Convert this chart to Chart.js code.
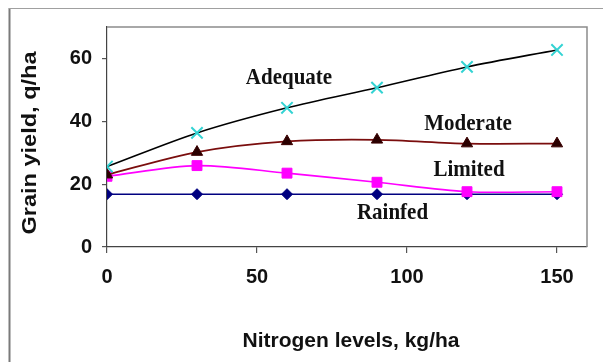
<!DOCTYPE html>
<html>
<head>
<meta charset="utf-8">
<script src="https://cdn.jsdelivr.net/npm/chart.js@4/dist/chart.umd.min.js"></script>
<style>
  html, body { margin: 0; padding: 0; background: #ffffff; }
  #wrap { width: 603px; height: 362px; position: relative; }
</style>
</head>
<body>
<div id="wrap"><canvas id="chart" width="603" height="362"></canvas></div>
<script>
// Grain yield response to nitrogen under four water regimes
const nitrogenLevels = [0, 30, 60, 90, 120, 150];
const seriesNames = ['Adequate', 'Moderate', 'Limited', 'Rainfed'];
const adequateYield = [25.6, 36.3, 44.3, 50.7, 57.3, 62.7];
const moderateYield = [23.0, 30.2, 33.6, 34.1, 32.9, 32.9];
const limitedYield  = [22.5, 25.9, 23.5, 20.6, 17.6, 17.6];
const rainfedYield  = [16.8, 16.8, 16.8, 16.8, 16.8, 16.8];
const xTicks = [0, 50, 100, 150];
const yTicks = [0, 20, 40, 60];
const xTitle = 'Nitrogen levels, kg/ha';
const yTitle = 'Grain yield, q/ha';

const toPoints = vals => nitrogenLevels.map((x, i) => ({ x, y: vals[i] }));

const SANS = "'Liberation Sans', Arial, sans-serif";
const SERIF = "'Liberation Serif', 'Times New Roman', serif";

// Series captions placed beside their curves
const captionPos = {
  Adequate: [289, 84],
  Moderate: [468, 130],
  Limited:  [469, 175.5],
  Rainfed:  [392.5, 219]
};

const decorations = {
  id: 'decorations',
  beforeDraw(chart) {
    const ctx = chart.ctx;
    ctx.save();
    ctx.fillStyle = '#ffffff';
    ctx.fillRect(0, 0, chart.width, chart.height);
    // outer frame (left and top edges)
    ctx.strokeStyle = '#7a7a7a';
    ctx.lineWidth = 2;
    ctx.beginPath();
    ctx.moveTo(9.5, 8);
    ctx.lineTo(9.5, chart.height);
    ctx.stroke();
    ctx.strokeStyle = '#a0a0a0';
    ctx.lineWidth = 1;
    ctx.beginPath();
    ctx.moveTo(9, 8.5);
    ctx.lineTo(chart.width, 8.5);
    ctx.stroke();
    ctx.restore();
  },
  afterDraw(chart) {
    const ctx = chart.ctx;
    const a = chart.chartArea;
    ctx.save();
    // plot area top and right edges
    ctx.strokeStyle = '#8c8c8c';
    ctx.lineWidth = 1.5;
    ctx.beginPath();
    ctx.moveTo(a.left, a.top);
    ctx.lineTo(a.right, a.top);
    ctx.lineTo(a.right, a.bottom);
    ctx.stroke();

    // series captions
    ctx.fillStyle = '#111111';
    ctx.font = 'bold 21px ' + SERIF;
    ctx.textAlign = 'center';
    ctx.textBaseline = 'alphabetic';
    seriesNames.forEach(name => {
      const [x, y] = captionPos[name];
      ctx.save();
      ctx.translate(x, y);
      ctx.scale(1, 1.12);
      ctx.fillText(name, 0, 0);
      ctx.restore();
    });

    // axis titles
    ctx.font = 'bold 21px ' + SANS;
    ctx.fillStyle = '#111111';
    ctx.textAlign = 'center';
    ctx.textBaseline = 'alphabetic';
    ctx.fillText(xTitle, 351, 346.5);

    ctx.save();
    ctx.translate(35.5, 143);
    ctx.rotate(-Math.PI / 2);
    ctx.scale(1.12, 1);
    ctx.fillText(yTitle, 0, 0);
    ctx.restore();

    ctx.restore();
  }
};

new Chart(document.getElementById('chart'), {
  type: 'line',
  data: {
    datasets: [
      {
        label: seriesNames[0],
        data: toPoints(adequateYield),
        borderColor: '#000000',
        borderWidth: 1.6,
        tension: 0.3,
        pointStyle: 'crossRot',
        pointRadius: 8,
        pointBorderWidth: 2,
        pointBorderColor: '#33d3d3',
        pointBackgroundColor: '#33d3d3'
      },
      {
        label: seriesNames[1],
        data: toPoints(moderateYield),
        borderColor: '#7a0d0d',
        borderWidth: 1.8,
        tension: 0.3,
        pointStyle: 'triangle',
        pointRadius: 6.5,
        pointBorderWidth: 1,
        pointBorderColor: '#3a0000',
        pointBackgroundColor: '#2a0000'
      },
      {
        label: seriesNames[2],
        data: toPoints(limitedYield),
        borderColor: '#ff00ff',
        borderWidth: 1.6,
        tension: 0.3,
        pointStyle: 'rect',
        pointRadius: 7,
        pointBorderWidth: 1,
        pointBorderColor: '#ff00ff',
        pointBackgroundColor: '#ff00ff'
      },
      {
        label: seriesNames[3],
        data: toPoints(rainfedYield),
        borderColor: '#000080',
        borderWidth: 1.6,
        tension: 0,
        pointStyle: 'rectRot',
        pointRadius: 5.5,
        pointBorderWidth: 1,
        pointBorderColor: '#000080',
        pointBackgroundColor: '#000080'
      }
    ]
  },
  options: {
    responsive: false,
    animation: false,
    events: [],
    layout: { padding: { top: 27, right: 16, left: 0, bottom: 0 } },
    plugins: {
      legend: { display: false },
      tooltip: { enabled: false },
      title: { display: false }
    },
    scales: {
      x: {
        type: 'linear',
        min: 0,
        max: 160,
        afterFit(scale) { scale.height = 115; },
        afterBuildTicks(scale) { scale.ticks = xTicks.map(v => ({ value: v })); },
        grid: {
          drawOnChartArea: false,
          drawTicks: true,
          tickLength: 6,
          tickColor: '#555555',
          lineWidth: 1.2
        },
        border: { color: '#444444', width: 1.2 },
        ticks: {
          padding: 12,
          color: '#111111',
          font: { family: SANS, size: 20, weight: 'bold' },
          maxRotation: 0,
          autoSkip: false
        }
      },
      y: {
        type: 'linear',
        min: 0,
        max: 70,
        afterFit(scale) { scale.width = 107; },
        afterBuildTicks(scale) { scale.ticks = yTicks.map(v => ({ value: v })); },
        grid: {
          drawOnChartArea: false,
          drawTicks: true,
          tickLength: 5,
          tickColor: '#555555',
          lineWidth: 1.2
        },
        border: { color: '#444444', width: 1.2 },
        ticks: {
          padding: 10,
          color: '#111111',
          font: { family: SANS, size: 20, weight: 'bold' },
          autoSkip: false
        }
      }
    }
  },
  plugins: [decorations]
});
</script>
</body>
</html>
